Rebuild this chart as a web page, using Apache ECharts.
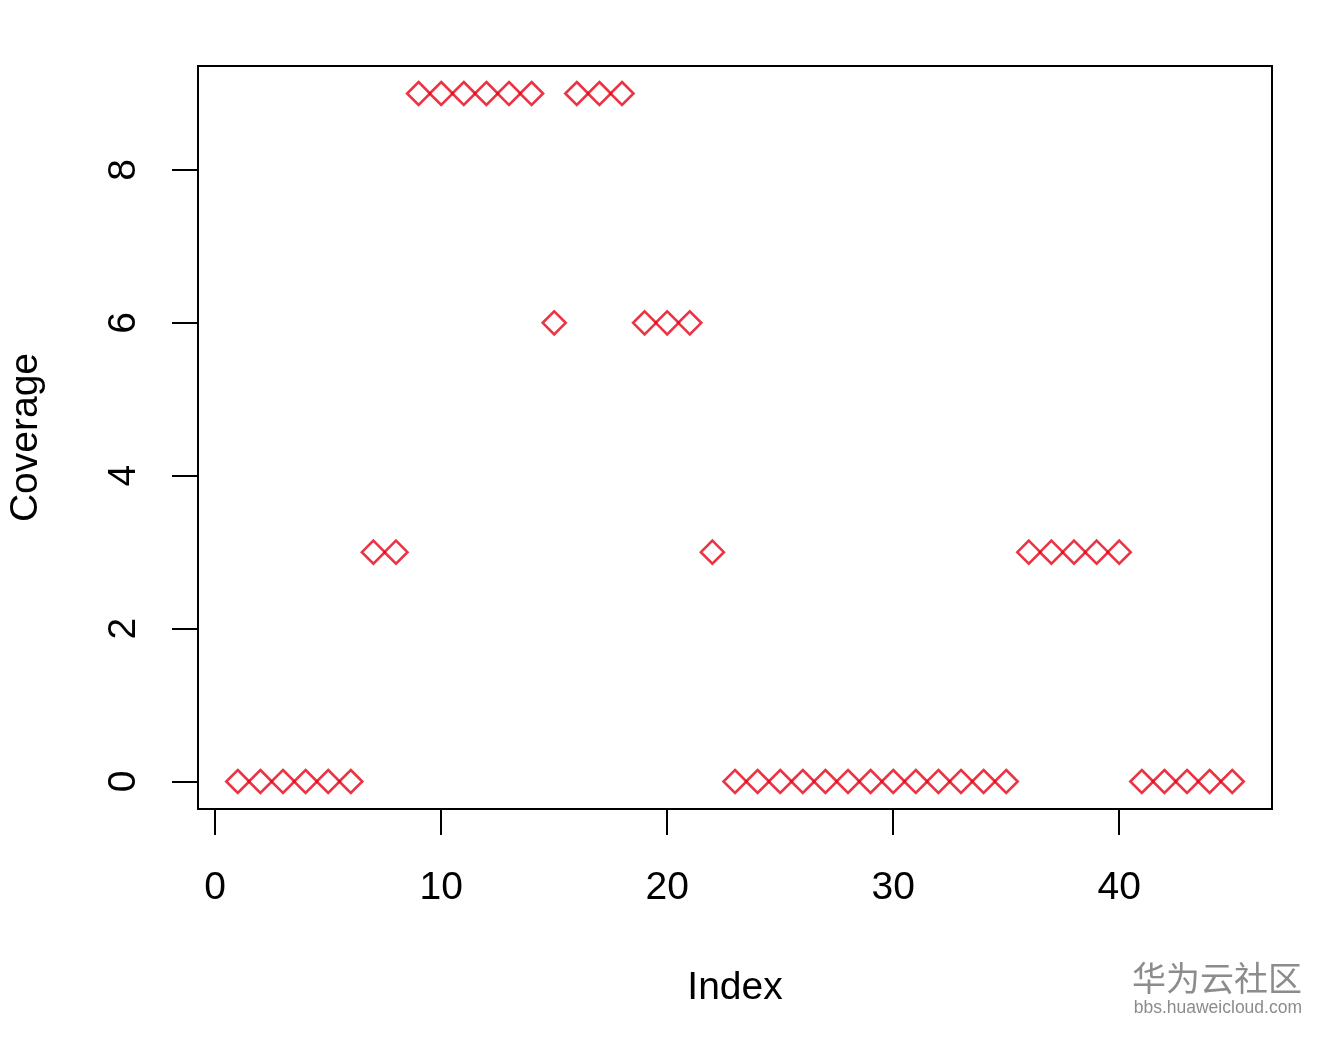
<!DOCTYPE html>
<html>
<head>
<meta charset="utf-8">
<script src="https://cdn.jsdelivr.net/npm/echarts@6.0.0/dist/echarts.min.js"></script>
<style>
  html, body { margin: 0; padding: 0; background: #fff; }
  #chart { width: 1332px; height: 1044px; }
</style>
</head>
<body>
<div id="chart"></div>
<script>
// coverage per index (index runs 1..45)
const coverage = [
  0, 0, 0, 0, 0, 0, 3, 3, 9, 9,
  9, 9, 9, 9, 6, 9, 9, 9, 6, 6,
  6, 3, 0, 0, 0, 0, 0, 0, 0, 0,
  0, 0, 0, 0, 0, 3, 3, 3, 3, 3,
  0, 0, 0, 0, 0,
];
const xTicks = [0, 10, 20, 30, 40];
const yTicks = [0, 2, 4, 6, 8];

const FONT = "Liberation Sans, Arial, sans-serif";
const RED = "#e60014";

const points = coverage.map((v, i) => [i + 1, v]);

const chart = echarts.init(document.getElementById("chart"), null, { renderer: "canvas" });

chart.setOption({
  animation: false,
  backgroundColor: "#ffffff",
  grid: {
    left: 198, right: 60, top: 66, bottom: 235,
    outerBoundsMode: "none",
    containLabel: false,
    show: true,
    borderColor: "#000",
    borderWidth: 2,
    backgroundColor: "transparent",
  },
  xAxis: {
    type: "value",
    min: -0.76,
    max: 46.76,
    name: "Index",
    nameLocation: "middle",
    nameGap: 160,
    nameTextStyle: { color: "#000", fontSize: 39, fontFamily: FONT },
    axisLine: { show: true, onZero: false, lineStyle: { color: "#000", width: 2 } },
    axisTick: { show: true, length: 26, customValues: xTicks, lineStyle: { color: "#000", width: 2 } },
    axisLabel: { customValues: xTicks, color: "#000", fontSize: 39, fontFamily: FONT, margin: 60 },
    splitLine: { show: false },
  },
  yAxis: {
    type: "value",
    min: -0.36,
    max: 9.36,
    name: "Coverage",
    nameLocation: "middle",
    nameGap: 152,
    nameTextStyle: { color: "#000", fontSize: 39, fontFamily: FONT },
    axisLine: { show: true, onZero: false, lineStyle: { color: "#000", width: 2 } },
    axisTick: { show: true, length: 26, customValues: yTicks, lineStyle: { color: "#000", width: 2 } },
    axisLabel: { customValues: yTicks, rotate: 90, color: "#000", fontSize: 39, fontFamily: FONT, margin: 54 },
    splitLine: { show: false },
  },
  series: [
    {
      type: "scatter",
      data: points,
      symbol: "diamond",
      symbolSize: [23, 23],
      itemStyle: { color: "transparent", borderColor: RED, borderWidth: 2.6 },
      emphasis: { disabled: true },
    },
  ],
  graphic: [
    {
      type: "text",
      right: 30,
      top: 961,
      style: { text: "华为云社区", fill: "#8c8c8c", fontSize: 34, fontFamily: "Noto Sans CJK SC" },
    },
    {
      type: "text",
      right: 30,
      top: 999,
      style: { text: "bbs.huaweicloud.com", fill: "#8c8c8c", fontSize: 17.5, fontFamily: FONT },
    },
  ],
});
</script>
</body>
</html>
